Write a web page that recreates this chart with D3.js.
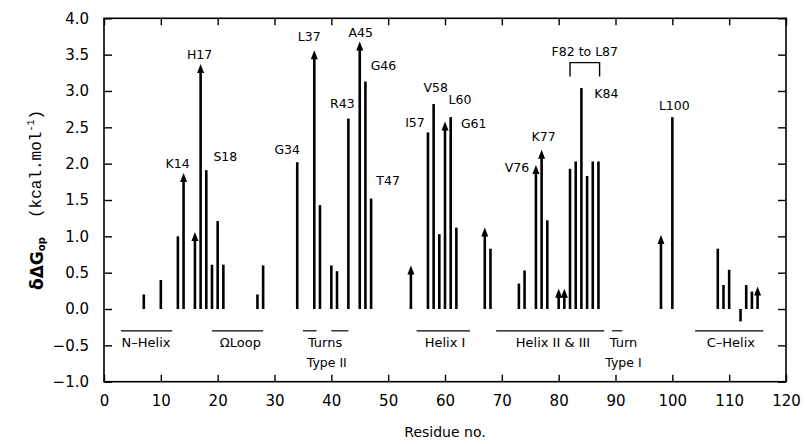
<!DOCTYPE html>
<html>
<head>
<meta charset="utf-8">
<script src="https://cdn.jsdelivr.net/npm/d3@7"></script>
<style>
  body { margin: 0; background: #fff; }
  text { font-family: "DejaVu Sans", "Liberation Sans", sans-serif; fill: #000; }
</style>
</head>
<body>
<div id="chart"></div>
<script>
// residue numbers and the change in opening free energy (kcal/mol)
const residues = [7, 10, 13, 14, 16, 17, 18, 19, 20, 21, 27, 28, 34, 37, 38, 40, 41, 43, 45, 46,
  47, 54, 57, 58, 59, 60, 61, 62, 67, 68, 73, 74, 76, 77, 78, 80, 81, 82, 83, 84,
  85, 86, 87, 98, 100, 108, 109, 110, 112, 113, 114, 115];
const values = [0.2, 0.4, 1.0, 1.87, 1.06, 3.37, 1.91, 0.61, 1.21, 0.61, 0.2, 0.6, 2.02, 3.56, 1.43, 0.6, 0.52, 2.62, 3.68, 3.13,
  1.52, 0.6, 2.43, 2.82, 1.03, 2.58, 2.64, 1.12, 1.12, 0.83, 0.35, 0.53, 1.98, 2.19, 1.22, 0.28, 0.28, 1.93, 2.03, 3.04,
  1.83, 2.03, 2.03, 1.02, 2.64, 0.83, 0.33, 0.54, -0.17, 0.33, 0.24, 0.31];
// residues where the value is a lower limit (drawn with an arrow head)
const lowerLimits = [14, 16, 17, 37, 45, 54, 60, 67, 76, 77, 80, 81, 98, 115];

// labelled residues
const labelRes = [14, 17, 18, 34, 37, 43, 45, 46, 47, 57, 58, 60, 61, 76, 77, 84, 100];
const labelText = ["K14", "H17", "S18", "G34", "L37", "R43", "A45", "G46", "T47", "I57", "V58", "L60", "G61", "V76", "K77", "K84", "L100"];

// secondary structure segments
const segStart = [3, 19, 35, 40, 55, 69, 89.4, 104];
const segEnd = [12, 28, 37.4, 43, 64.4, 88, 91.2, 116];
const segNames = ["N\u2013Helix", "\u03A9Loop", "Turns", "Helix I", "Helix II & III", "Turn", "C\u2013Helix"];
const segNamePos = [7.4, 24, 38.9, 60, 79, 91.4, 110.3];
const typeNames = ["Type II", "Type I"];
const typeNamePos = [39.2, 91.4];

const xTicks = d3.range(0, 121, 10);
const yTicks = d3.range(-1, 4.01, 0.5);

const width = 805, height = 444;
const x = d3.scaleLinear().domain([0, 120]).range([104, 786]);
const y = d3.scaleLinear().domain([-1, 4]).range([381.7, 18.3]);

const svg = d3.select("#chart").append("svg")
  .attr("width", width)
  .attr("height", height);

// frame
svg.append("rect")
  .attr("x", x(0)).attr("y", y(4))
  .attr("width", x(120) - x(0)).attr("height", y(-1) - y(4))
  .attr("fill", "none").attr("stroke", "#000").attr("stroke-width", 1.6);

// axes with inward ticks
const axB = svg.append("g").attr("transform", `translate(0,${y(-1)})`)
  .call(d3.axisBottom(x).tickValues(xTicks).tickSize(-7).tickPadding(14).tickFormat(d3.format("d")));
const axT = svg.append("g").attr("transform", `translate(0,${y(4)})`)
  .call(d3.axisTop(x).tickValues(xTicks).tickSize(-7).tickFormat(""));
const axL = svg.append("g").attr("transform", `translate(${x(0)},0)`)
  .call(d3.axisLeft(y).tickValues(yTicks).tickSize(-8).tickPadding(15).tickFormat(d => d3.format(".1f")(d).replace("-", "\u2212")));
const axR = svg.append("g").attr("transform", `translate(${x(120)},0)`)
  .call(d3.axisRight(y).tickValues(yTicks).tickSize(-8).tickFormat(""));
[axB, axT, axL, axR].forEach(g => {
  g.select(".domain").remove();
  g.selectAll(".tick line").attr("stroke", "#000").attr("stroke-width", 1.4);
  g.selectAll("text").style("font-family", "DejaVu Sans, sans-serif").style("font-size", "15px").attr("fill", "#000");
});

// bars
const data = residues.map((r, i) => ({ r: r, v: values[i], arrow: lowerLimits.includes(r) }));
const headH = 9, headW = 7;

svg.append("g").selectAll("line")
  .data(data)
  .enter()
  .append("line")
  .attr("x1", d => x(d.r)).attr("x2", d => x(d.r))
  .attr("y1", y(0))
  .attr("y2", d => d.arrow ? y(d.v) + headH - 1 : y(d.v))
  .attr("stroke", "#000").attr("stroke-width", 2.6);

svg.append("g").selectAll("path")
  .data(data.filter(d => d.arrow))
  .enter()
  .append("path")
  .attr("d", d => {
    const cx = x(d.r), ty = y(d.v);
    return `M${cx},${ty} L${cx - headW / 2},${ty + headH} L${cx + headW / 2},${ty + headH} Z`;
  })
  .attr("fill", "#000");

// residue labels, offsets from the bar top
const labelOffset = {
  K14: [-6, -10], H17: [-1, -10], S18: [19, -14], G34: [-10, -13], L37: [-5, -14],
  R43: [-6, -15], A45: [1, -9], G46: [18, -16], T47: [17, -18], I57: [-13, -10],
  V58: [2, -17], L60: [15, -22], G61: [23, 6], V76: [-19, 2], K77: [2, -13],
  K84: [25, 5], L100: [2, -12]
};
svg.append("g").selectAll("text")
  .data(labelRes.map((r, i) => ({ r: r, t: labelText[i], v: values[residues.indexOf(r)] })))
  .enter()
  .append("text")
  .attr("x", d => x(d.r) + labelOffset[d.t][0])
  .attr("y", d => y(d.v) + labelOffset[d.t][1])
  .attr("text-anchor", "middle")
  .attr("dominant-baseline", "central")
  .style("font-size", "12.5px")
  .text(d => d.t);

// F82 to L87 bracket
const br = svg.append("g");
br.append("path")
  .attr("d", `M${x(82)},${y(3.2)} V${y(3.39)} H${x(87.2)} V${y(3.2)}`)
  .attr("fill", "none").attr("stroke", "#000").attr("stroke-width", 1.4);
br.append("text")
  .attr("x", x(84.6)).attr("y", y(3.54))
  .attr("text-anchor", "middle").attr("dominant-baseline", "central")
  .style("font-size", "12.5px")
  .text("F82 to L87");

// secondary structure
const seg = svg.append("g");
seg.selectAll("line")
  .data(segStart)
  .enter()
  .append("line")
  .attr("x1", d => x(d)).attr("x2", (d, i) => x(segEnd[i]))
  .attr("y1", y(-0.3)).attr("y2", y(-0.3))
  .attr("stroke", "#000").attr("stroke-width", 1.2);
seg.selectAll("text.seg")
  .data(segNames)
  .enter()
  .append("text")
  .attr("class", "seg")
  .attr("x", (d, i) => x(segNamePos[i])).attr("y", y(-0.46))
  .attr("text-anchor", "middle").attr("dominant-baseline", "central")
  .style("font-size", "13px")
  .text(d => d);
seg.selectAll("text.type")
  .data(typeNames)
  .enter()
  .append("text")
  .attr("class", "type")
  .attr("x", (d, i) => x(typeNamePos[i])).attr("y", y(-0.73))
  .attr("text-anchor", "middle").attr("dominant-baseline", "central")
  .style("font-size", "12.5px")
  .text(d => d);

// axis titles
svg.append("text")
  .attr("x", (x(0) + x(120)) / 2).attr("y", 432)
  .attr("text-anchor", "middle").attr("dominant-baseline", "central")
  .style("font-size", "14px")
  .text("Residue no.");

const yl = svg.append("text")
  .attr("transform", `translate(37,${(y(4) + y(-1)) / 2}) rotate(-90)`)
  .attr("text-anchor", "middle").attr("dominant-baseline", "central")
  .style("font-size", "17px");
yl.append("tspan").style("font-weight", "bold").text("\u03B4\u0394G");
yl.append("tspan").attr("dy", 4).style("font-size", "10px").style("font-weight", "bold").text("op");
yl.append("tspan").attr("dy", -4).style("font-family", "Liberation Mono, DejaVu Sans Mono, monospace").style("font-size", "16px").text("\u00A0\u00A0(kcal.mol");
yl.append("tspan").attr("dy", -6).style("font-family", "Liberation Mono, DejaVu Sans Mono, monospace").style("font-size", "10px").text("-1");
yl.append("tspan").attr("dy", 6).style("font-family", "Liberation Mono, DejaVu Sans Mono, monospace").style("font-size", "16px").text(")");
</script>
</body>
</html>
